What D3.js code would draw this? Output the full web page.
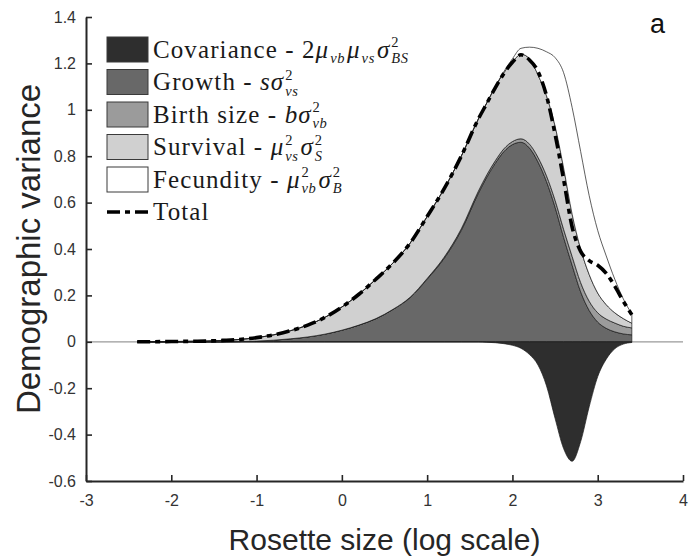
<!DOCTYPE html>
<html>
<head>
<meta charset="utf-8">
<script src="https://cdn.jsdelivr.net/npm/d3@7"></script>
<style>
  html, body { margin: 0; padding: 0; background: #fff; }
  svg { display: block; }
</style>
</head>
<body>
<svg id="chart" width="689" height="557"></svg>
<script>
// Rosette size (log scale) at which each contribution was evaluated
const sizes = [-2.4, -2.2, -2.0, -1.8, -1.6, -1.4, -1.2, -1.0, -0.8, -0.6, -0.4, -0.2, 0, 0.2, 0.4, 0.6, 0.8, 1.0, 1.2, 1.4, 1.6,
  1.7, 1.8, 1.9, 2.0, 2.1, 2.2, 2.3, 2.4, 2.5, 2.6, 2.7, 2.8, 2.9, 3.0, 3.1, 3.2, 3.3, 3.4];

// Contributions to demographic variance
const growth = [0, 0, 0, 0, 0, 0, 0.001, 0.003, 0.007, 0.013, 0.021, 0.033, 0.05, 0.072, 0.10, 0.14, 0.19, 0.27, 0.36, 0.48, 0.64,
  0.71, 0.77, 0.82, 0.85, 0.86, 0.835, 0.775, 0.69, 0.58, 0.45, 0.33, 0.215, 0.135, 0.085, 0.058, 0.043, 0.034, 0.03];
const birthSize = [0, 0, 0, 0, 0, 0, 0, 0, 0, 0, 0, 0, 0, 0, 0, 0, 0.002, 0.003, 0.005, 0.007, 0.009,
  0.01, 0.011, 0.012, 0.013, 0.015, 0.017, 0.02, 0.025, 0.03, 0.035, 0.038, 0.04, 0.04, 0.04, 0.04, 0.038, 0.033, 0.03];
const survival = [0, 0.0005, 0.001, 0.002, 0.003, 0.006, 0.009, 0.015, 0.023, 0.035, 0.051, 0.072, 0.10, 0.133, 0.17, 0.20, 0.233, 0.267, 0.295, 0.313, 0.311,
  0.31, 0.319, 0.328, 0.342, 0.365, 0.368, 0.355, 0.345, 0.32, 0.265, 0.182, 0.145, 0.115, 0.085, 0.062, 0.044, 0.033, 0.02];
const fecundity = [0, 0, 0, 0, 0, 0, 0, 0, 0, 0, 0, 0, 0, 0, 0, 0, 0, 0, 0, 0, 0,
  0, 0, 0.005, 0.015, 0.025, 0.05, 0.115, 0.19, 0.295, 0.41, 0.46, 0.42, 0.34, 0.27, 0.21, 0.145, 0.085, 0.04];
const covariance = [0, 0, 0, 0, 0, 0, 0, 0, 0, 0, 0, 0, 0, 0, 0, 0, 0, 0, 0, 0, 0,
  -0.002, -0.004, -0.008, -0.015, -0.028, -0.055, -0.10, -0.19, -0.33, -0.46, -0.515, -0.43, -0.28, -0.15, -0.075, -0.03, -0.01, -0.003];

// Axis ticks
const xTicks = [-3, -2, -1, 0, 1, 2, 3, 4];
const xTickLabels = ["-3", "-2", "-1", "0", "1", "2", "3", "4"];
const yTicks = [-0.6, -0.4, -0.2, 0, 0.2, 0.4, 0.6, 0.8, 1, 1.2, 1.4];
const yTickLabels = ["-0.6", "-0.4", "-0.2", "0", "0.2", "0.4", "0.6", "0.8", "1", "1.2", "1.4"];

const stackKeys = ["growth", "birthSize", "survival", "fecundity"];
const fills = { covariance: "#2e2e2e", growth: "#686868", birthSize: "#9b9b9b", survival: "#d0d0d0", fecundity: "#ffffff" };

const rows = sizes.map((s, i) => ({
  size: s,
  growth: growth[i],
  birthSize: birthSize[i],
  survival: survival[i],
  fecundity: fecundity[i],
  covariance: covariance[i]
}));
rows.forEach(r => { r.total = d3.sum(["covariance", ...stackKeys], k => r[k]); });

const svg = d3.select("#chart");
const margin = { left: 86, right: 6, top: 17, bottom: 76 };
const W = 689, H = 557;

const x = d3.scaleLinear().domain([-3, 4]).range([margin.left, W - margin.right]);
const y = d3.scaleLinear().domain([-0.6, 1.4]).range([H - margin.bottom, margin.top]);

const curve = d3.curveMonotoneX;

// Zero reference line
svg.append("line")
  .attr("x1", x(-3)).attr("x2", x(4))
  .attr("y1", y(0)).attr("y2", y(0))
  .attr("stroke", "#9a9a9a").attr("stroke-width", 1.2);

// Stacked positive contributions
const series = d3.stack().keys(stackKeys)(rows);
const area = d3.area()
  .x(d => x(d.data.size))
  .y0(d => y(d[0]))
  .y1(d => y(d[1]))
  .curve(curve);

svg.append("g").selectAll("path")
  .data(series)
  .join("path")
  .attr("d", area)
  .attr("fill", d => fills[d.key])
  .attr("stroke", "#1a1a1a")
  .attr("stroke-width", 0.7)
  .attr("stroke-linejoin", "round");

// Negative covariance contribution
svg.append("path")
  .datum(rows)
  .attr("d", d3.area().x(d => x(d.size)).y0(y(0)).y1(d => y(d.covariance)).curve(curve))
  .attr("fill", fills.covariance)
  .attr("stroke", "#1a1a1a")
  .attr("stroke-width", 0.7);

// Total variance
const totalDash = "13,5,5,5";
svg.append("path")
  .datum(rows)
  .attr("d", d3.line().x(d => x(d.size)).y(d => y(d.total)).curve(curve))
  .attr("fill", "none")
  .attr("stroke", "#000")
  .attr("stroke-width", 3.6)
  .attr("stroke-dasharray", totalDash);

// Axes
const axisColor = "#262626";
const xAxis = svg.append("g")
  .attr("transform", `translate(0,${y(-0.6)})`)
  .call(d3.axisBottom(x).tickValues(xTicks).tickFormat((d, i) => xTickLabels[i]).tickSizeInner(-6).tickSizeOuter(0).tickPadding(14));
const yAxis = svg.append("g")
  .attr("transform", `translate(${x(-3)},0)`)
  .call(d3.axisLeft(y).tickValues(yTicks).tickFormat((d, i) => yTickLabels[i]).tickSizeInner(-6).tickSizeOuter(0).tickPadding(10));

[xAxis, yAxis].forEach(a => {
  a.select(".domain").attr("stroke", axisColor).attr("stroke-width", 2);
  a.selectAll(".tick line").attr("stroke", axisColor).attr("stroke-width", 1.6);
  a.selectAll(".tick text")
    .attr("fill", "#333")
    .style("font-family", "Liberation Sans, Arial, sans-serif")
    .style("font-size", "16px");
});

// Axis titles
svg.append("text")
  .attr("x", (x(-3) + x(4)) / 2).attr("y", 550)
  .attr("text-anchor", "middle")
  .attr("fill", "#262626")
  .style("font-family", "Liberation Sans, Arial, sans-serif")
  .style("font-size", "30px")
  .text("Rosette size (log scale)");

svg.append("text")
  .attr("transform", `translate(40,${(y(-0.6) + y(1.4)) / 2}) rotate(-90)`)
  .attr("text-anchor", "middle")
  .attr("fill", "#262626")
  .style("font-family", "Liberation Sans, Arial, sans-serif")
  .style("font-size", "33px")
  .text("Demographic variance");

// Panel letter
svg.append("text")
  .attr("x", 650).attr("y", 33)
  .attr("fill", "#111")
  .style("font-family", "Liberation Sans, Arial, sans-serif")
  .style("font-size", "27px")
  .text("a");

// Legend
const legendItems = [
  { key: "covariance", parts: [{ t: "Covariance - " }, { t: "2" }, { t: "μ", i: 1 }, { sub: "vb" }, { t: "μ", i: 1 }, { sub: "vs" }, { t: "σ", i: 1 }, { sup: "2", sub: "BS" }] },
  { key: "growth", parts: [{ t: "Growth - " }, { t: "s", i: 1 }, { t: "σ", i: 1 }, { sup: "2", sub: "vs" }] },
  { key: "birthSize", parts: [{ t: "Birth size - " }, { t: "b", i: 1 }, { t: "σ", i: 1 }, { sup: "2", sub: "vb" }] },
  { key: "survival", parts: [{ t: "Survival - " }, { t: "μ", i: 1 }, { sup: "2", sub: "vs" }, { t: "σ", i: 1 }, { sup: "2", sub: "S" }] },
  { key: "fecundity", parts: [{ t: "Fecundity - " }, { t: "μ", i: 1 }, { sup: "2", sub: "vb" }, { t: "σ", i: 1 }, { sup: "2", sub: "B" }] }
];

const legend = svg.append("g");
const lx = 107, ly = 37, rowH = 32.5, patchW = 41, patchH = 25, textX = 153;
const serif = "Liberation Serif, Times New Roman, serif";
const mainSize = 25, scriptSize = 14.5;
const supShift = -10.5, subShift = 5.6;

// Width of a run of text in the legend font
const ruler = svg.append("text").style("font-family", serif).style("white-space", "pre").attr("visibility", "hidden");
function measure(str, size, italic, spacing) {
  ruler.style("font-size", size + "px")
    .style("font-style", italic ? "italic" : "normal")
    .style("letter-spacing", spacing + "px")
    .text(str);
  return ruler.node().getComputedTextLength();
}

function styleRun(ts, size, italic, spacing) {
  ts.style("font-size", size + "px")
    .style("font-style", italic ? "italic" : "normal")
    .style("letter-spacing", spacing + "px");
}

// One text element per legend entry; scripts are positioned tspans
function mathLabel(g, px, py, parts) {
  const text = g.append("text")
    .attr("fill", "#1a1a1a")
    .style("font-family", serif)
    .style("white-space", "pre");
  let cx = px;
  parts.forEach(p => {
    if (p.sup !== undefined || p.sub !== undefined) {
      let w = 0;
      if (p.sup !== undefined) {
        const ts = text.append("tspan").attr("x", cx + 1).attr("y", py + supShift).text(p.sup);
        styleRun(ts, scriptSize, false, 0);
        w = Math.max(w, measure(p.sup, scriptSize, false, 0));
      }
      if (p.sub !== undefined) {
        const ts = text.append("tspan").attr("x", cx + 1).attr("y", py + subShift).text(p.sub);
        styleRun(ts, scriptSize, true, 0.6);
        w = Math.max(w, measure(p.sub, scriptSize, true, 0.6));
      }
      cx += w + 3;
    } else {
      const sp = p.i ? 1 : 1.1;
      const ts = text.append("tspan").attr("x", cx).attr("y", py).text(p.t);
      styleRun(ts, mainSize, !!p.i, sp);
      cx += measure(p.t, mainSize, !!p.i, sp);
    }
  });
}

legendItems.forEach((item, i) => {
  const top = ly + i * rowH;
  legend.append("rect")
    .attr("x", lx).attr("y", top)
    .attr("width", patchW).attr("height", patchH)
    .attr("fill", fills[item.key])
    .attr("stroke", "#3a3a3a").attr("stroke-width", 1);
  mathLabel(legend, textX, top + patchH / 2 + 8, item.parts);
});

const totalY = ly + legendItems.length * rowH + patchH / 2;
legend.append("line")
  .attr("x1", lx).attr("x2", lx + patchW)
  .attr("y1", totalY).attr("y2", totalY)
  .attr("stroke", "#000").attr("stroke-width", 3.6)
  .attr("stroke-dasharray", totalDash);
mathLabel(legend, textX, totalY + 8, [{ t: "Total" }]);
ruler.remove();
</script>
</body>
</html>
